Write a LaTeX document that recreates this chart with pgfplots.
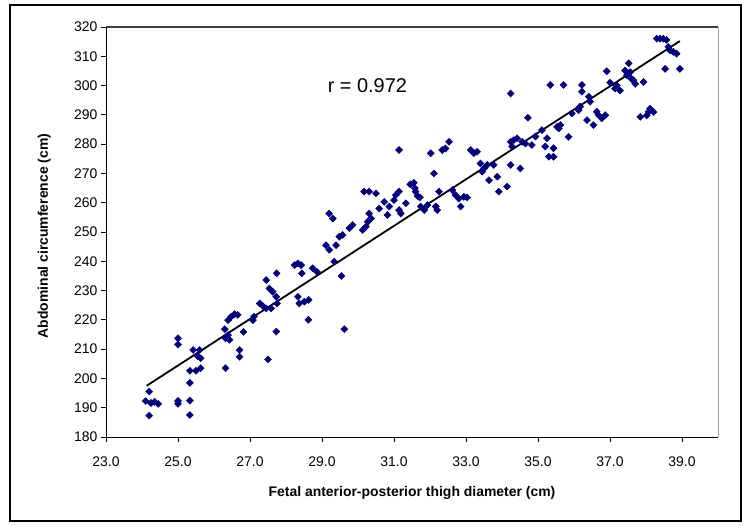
\documentclass[border=0pt]{standalone}
\usepackage{pgfplots}
\pgfplotsset{compat=1.18}
\usepackage{fontspec}
\setmainfont{Liberation Sans}
\definecolor{navymark}{RGB}{0,0,128}
\begin{document}
\begin{tikzpicture}
\useasboundingbox (0bp,0bp) rectangle (752bp,526bp);
\draw[line width=1.3bp, black] (10bp,5bp) rectangle (741bp,521bp);
\begin{axis}[
  at={(106bp,89bp)}, anchor=south west,
  scale only axis, width=612bp, height=410bp,
  xmin=23, xmax=40, ymin=180, ymax=320,
  xtick={23,25,...,39}, ytick={180,190,...,320},
  axis lines=left, axis line style={-, black, line width=0.9bp},
  tick align=outside, major tick length=5bp,
  tick style={black, line width=0.9bp},
  /pgf/number format/assume math mode=true,
  xticklabel style={/pgf/number format/.cd, fixed, fixed zerofill, precision=1, /tikz/.cd, yshift=-11bp},
  yticklabel style={/pgf/number format/.cd, fixed, precision=0},
  tick label style={font=\fontsize{14}{16}\selectfont},
  every axis x label/.style={at={(axis description cs:0.5,-0.137)}, anchor=center, font=\bfseries\fontsize{14}{16}\selectfont},
  every axis y label/.style={at={(axis description cs:-0.101,0.49)}, anchor=center, rotate=90, font=\bfseries\fontsize{14}{16}\selectfont},
  xlabel={Fetal anterior-posterior thigh diameter (cm)},
  ylabel={Abdominal circumference (cm)},
  clip=false,
]
\draw[black!75, line width=1.6bp] (rel axis cs:0,1) -- (rel axis cs:1,1);
\draw[black!35, line width=0.9bp] (rel axis cs:1,1) -- (rel axis cs:1,0);
\addplot[only marks, mark=square*, mark size=2.5bp, color=navymark,
  every mark/.append style={rotate=45, fill=navymark, draw=navymark}] table {
x y
24.2 195.5
24.1 192.3
24.25 191.6
24.35 192.0
24.45 191.3
24.2 187.3
25.0 213.7
25.0 211.6
25.0 192.3
25.0 191.3
25.33 202.6
25.33 198.5
25.33 192.4
25.33 187.5
25.42 209.7
25.6 209.7
25.63 206.9
25.55 207.5
25.5 202.6
25.63 203.5
26.3 216.8
26.32 213.7
26.39 214.8
26.43 213.2
26.32 203.5
26.39 219.9
26.48 221.1
26.57 221.9
26.66 221.7
26.82 215.9
26.71 209.7
26.71 207.4
27.11 221.1
27.08 219.9
27.27 225.6
27.36 224.7
27.45 223.9
27.59 223.9
27.45 233.6
27.54 230.7
27.63 229.6
27.73 227.9
27.75 225.6
27.74 235.9
27.73 216.0
27.5 206.5
28.24 238.7
28.33 239.3
28.42 238.7
28.44 235.9
28.33 227.9
28.37 225.6
28.51 226.2
28.63 226.8
28.62 220.0
28.74 237.6
28.86 236.4
29.11 245.5
29.2 243.9
29.39 245.5
29.48 248.4
29.57 249.0
29.34 239.9
29.54 235.0
29.62 216.8
29.2 256.3
29.3 254.6
29.76 251.3
29.85 252.4
30.13 250.7
30.22 251.8
30.17 263.8
30.31 263.8
30.5 263.2
30.31 256.3
30.36 254.6
30.27 253.5
30.59 258.0
30.73 260.3
30.82 255.8
30.87 258.7
31.05 262.6
31.14 263.8
31.0 260.9
31.14 257.5
31.19 256.3
31.33 259.8
31.45 266.3
31.55 266.8
31.58 265.0
31.6 263.8
31.65 262.3
31.72 261.8
31.14 278.0
31.74 258.7
31.84 257.5
31.93 259.2
32.16 258.7
32.2 257.5
32.25 263.8
32.11 270.0
32.02 276.9
32.34 278.0
32.43 278.5
32.53 280.8
32.62 264.3
32.71 262.6
32.8 261.4
32.94 262.0
33.03 261.8
32.85 258.7
33.13 278.0
33.22 276.9
33.31 277.4
33.4 273.4
33.5 271.7
33.59 272.9
33.45 270.6
33.77 272.9
33.64 267.7
33.87 268.9
33.91 263.8
34.14 265.5
34.24 272.9
34.51 271.7
34.24 280.8
34.33 281.4
34.42 282.0
34.56 280.8
34.65 280.2
34.28 279.2
34.72 289.0
34.24 297.3
34.83 279.7
34.93 282.6
35.11 284.8
35.25 282.0
35.2 279.2
35.43 278.6
35.3 275.7
35.43 275.7
35.34 300.2
35.71 300.2
35.53 285.9
35.62 286.5
35.58 285.4
35.85 282.5
35.94 290.5
36.13 291.6
36.17 292.8
36.22 300.2
36.22 297.9
36.41 296.2
36.45 294.5
36.36 288.2
36.54 286.5
36.63 291.1
36.68 289.9
36.77 288.8
36.87 289.9
36.91 304.9
37.0 301.0
37.14 299.0
37.28 298.3
37.19 300.0
37.52 307.6
37.42 305.1
37.56 304.6
37.47 303.5
37.6 302.3
37.7 300.6
37.93 301.2
37.65 301.8
37.84 289.3
38.02 289.8
38.11 292.1
38.21 291.0
38.07 291.0
38.3 316.0
38.39 316.0
38.48 316.0
38.57 315.6
38.62 313.2
38.67 312.0
38.76 311.5
38.85 310.9
38.53 305.7
38.94 305.7
};
\addplot[black, line width=1.8bp, no marks] coordinates {(24.13,197.5) (38.94,315.2)};
\node[font=\fontsize{20}{24}\selectfont] at (axis cs:30.26,300) {r = 0.972};
\end{axis}
\end{tikzpicture}
\end{document}
